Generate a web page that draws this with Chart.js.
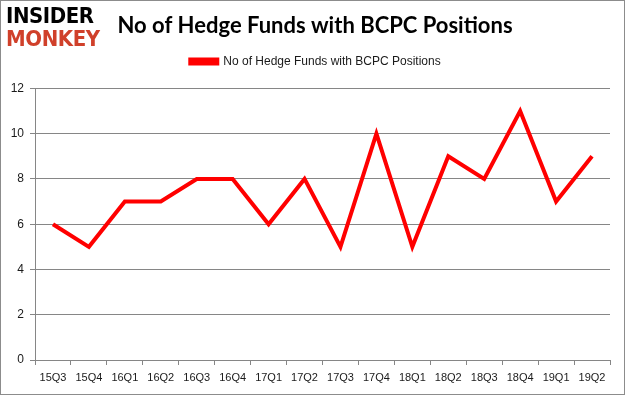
<!DOCTYPE html>
<html><head><meta charset="utf-8">
<script src="https://cdn.jsdelivr.net/npm/chart.js@4/dist/chart.umd.min.js"></script>
<style>
html,body{margin:0;padding:0;background:#fff;}
#wrap{position:relative;width:625px;height:395px;box-sizing:border-box;border:1px solid #8c8c8c;overflow:hidden;}
canvas{position:absolute;left:0;top:0;}
.logo{position:absolute;left:5px;font-family:"DejaVu Sans",sans-serif;font-weight:bold;font-size:23px;line-height:22px;letter-spacing:-0.5px;transform-origin:0 0;}
#l1{top:5px;color:#000;transform:scale(0.86,0.92);}
#l2{top:28px;color:#d0402a;transform:scale(0.86,0.92);}
</style></head>
<body>
<div id="wrap">
<canvas id="c" width="623" height="393"></canvas>
<div class="logo" id="l1">INSIDER</div>
<div class="logo" id="l2">MONKEY</div>
</div>
<script>
const categories = ["15Q3","15Q4","16Q1","16Q2","16Q3","16Q4","17Q1","17Q2","17Q3","17Q4","18Q1","18Q2","18Q3","18Q4","19Q1","19Q2"];
const hedgeFunds = [6,5,7,7,8,8,6,8,5,10,5,9,8,11,7,9];
const yTicks = [0,2,4,6,8,10,12];
const seriesName = "No of Hedge Funds with BCPC Positions";
const chartTitle = "No of Hedge Funds with BCPC Positions";

const layoutTweak = {
  id: 'layoutTweak',
  beforeInit(chart) {
    const lg = chart.legend;
    if (lg) {
      const orig = lg.fit.bind(lg);
      lg.fit = function () { orig(); this.height += 11; };
    }
  },
  afterLayout(chart) {
    if (chart.titleBlock) { chart.titleBlock.left += 19; }
    if (chart.legend) { chart.legend.left += 10; chart.legend.right += 10; }
  }
};

new Chart(document.getElementById('c'), {
  type: 'line',
  data: {
    labels: categories,
    datasets: [{
      label: seriesName,
      data: hedgeFunds,
      borderColor: '#ff0000',
      backgroundColor: '#ff0000',
      borderWidth: 4,
      pointRadius: 0,
      tension: 0,
      borderJoinStyle: 'miter'
    }]
  },
  plugins: [layoutTweak],
  options: {
    responsive: false,
    animation: false,
    layout: { padding: { left: 0, right: 14, top: 0, bottom: 0 } },
    plugins: {
      title: {
        display: true, text: chartTitle, color: '#000',
        font: { family: 'Lato', size: 22, weight: 'bold' },
        padding: { top: 12, bottom: 2 }
      },
      legend: {
        display: true,
        labels: {
          color: '#1a1a1a', font: { family: 'Liberation Sans', size: 12 },
          boxWidth: 27, boxHeight: 4, padding: 14
        }
      },
      tooltip: { enabled: false }
    },
    scales: {
      x: {
        offset: true,
        grid: { offset: true, drawOnChartArea: false, drawTicks: true, tickLength: 5, color: '#868686' },
        border: { color: '#868686', width: 1 },
        ticks: { color: '#1a1a1a', font: { family: 'Liberation Sans', size: 11 }, maxRotation: 0, padding: 6 },
        afterFit: (s) => { s.height = 34; }
      },
      y: {
        min: 0, max: 12,
        afterBuildTicks: (s) => { s.ticks = yTicks.map(v => ({ value: v })); },
        grid: { color: '#868686', drawTicks: true, tickLength: 5 },
        border: { color: '#868686', width: 1 },
        ticks: { color: '#1a1a1a', font: { family: 'Liberation Sans', size: 12 }, padding: 6 },
        afterFit: (s) => { s.width = 34; }
      }
    }
  }
});
</script>
</body></html>
